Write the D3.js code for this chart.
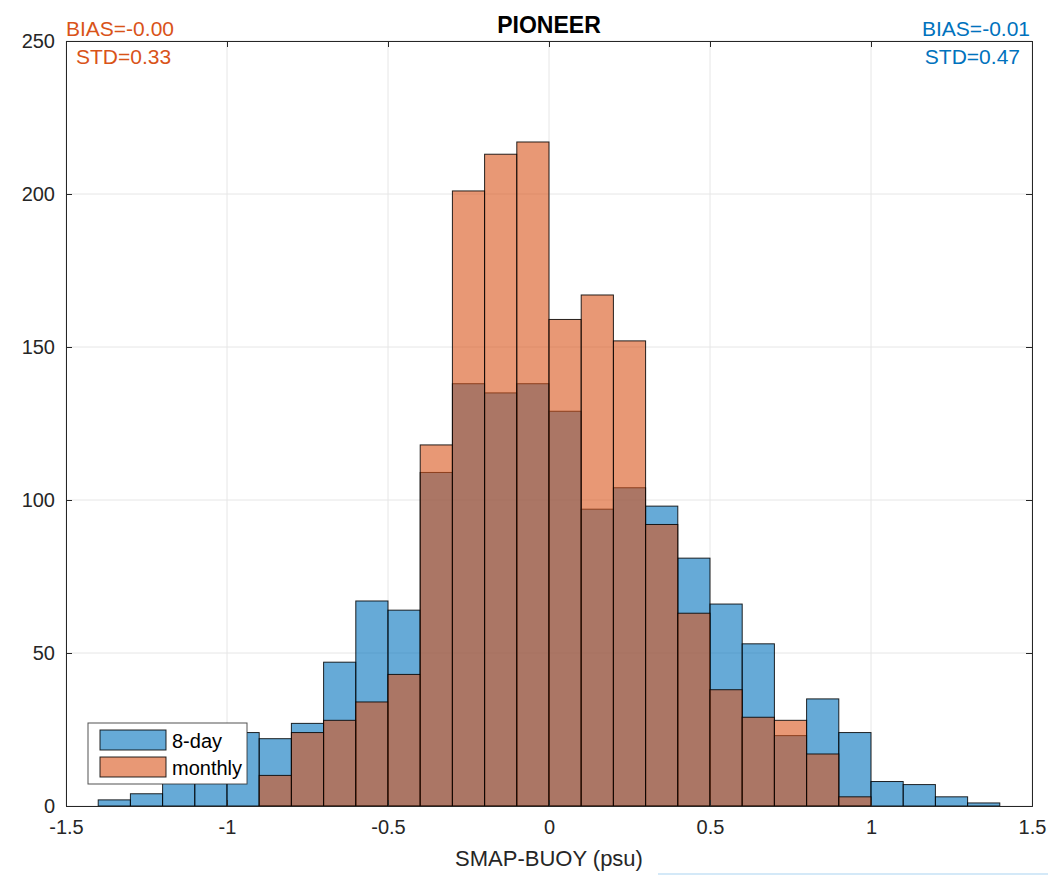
<!DOCTYPE html>
<html>
<head>
<meta charset="utf-8">
<script src="https://cdn.jsdelivr.net/npm/d3@7"></script>
<style>
  html, body { margin: 0; padding: 0; background: #fff; }
  svg { display: block; font-family: "Liberation Sans", Arial, Helvetica, sans-serif; }
</style>
</head>
<body>
<svg id="chart" width="1051" height="875"></svg>
<script>
// Histogram bin edges (psu), 0.1 wide, from -1.4 to 1.4
const binStarts = [-1.4, -1.3, -1.2, -1.1, -1.0, -0.9, -0.8, -0.7, -0.6, -0.5, -0.4, -0.3, -0.2, -0.1,
                   0.0, 0.1, 0.2, 0.3, 0.4, 0.5, 0.6, 0.7, 0.8, 0.9, 1.0, 1.1, 1.2, 1.3];
const binWidth = 0.1;

// Counts per bin, 8-day product
const eightDay = [2, 4, 12, 18, 24, 22, 27, 47, 67, 64, 109, 138, 135, 138,
                  129, 97, 104, 98, 81, 66, 53, 23, 35, 24, 8, 7, 3, 1];
// Counts per bin, monthly product
const monthly = [0, 0, 0, 0, 0, 10, 24, 28, 34, 43, 118, 201, 213, 217,
                 159, 167, 152, 92, 63, 38, 29, 28, 17, 3, 0, 0, 0, 0];

const xTicks = [-1.5, -1, -0.5, 0, 0.5, 1, 1.5];
const yTicks = [0, 50, 100, 150, 200, 250];

const seriesNames = ["8-day", "monthly"];
const statsEight = ["BIAS=-0.01", "STD=0.47"];
const statsMonthly = ["BIAS=-0.00", "STD=0.33"];
const titleText = "PIONEER";
const xLabelText = "SMAP-BUOY (psu)";

const blue = "#0072bd", orange = "#d95319";
const faceAlpha = 0.6;
const axisColor = "#262626";

const svg = d3.select("#chart");
const plot = { left: 66, right: 1032, top: 41, bottom: 806 };

const x = d3.scaleLinear().domain([-1.5, 1.5]).range([plot.left, plot.right]);
const y = d3.scaleLinear().domain([0, 250]).range([plot.bottom, plot.top]);

// grid
const grid = svg.append("g");
grid.selectAll("line.gx").data(xTicks).join("line")
  .attr("x1", d => x(d)).attr("x2", d => x(d))
  .attr("y1", plot.top).attr("y2", plot.bottom)
  .attr("stroke", "#e6e6e6").attr("stroke-width", 1);
grid.selectAll("line.gy").data(yTicks).join("line")
  .attr("y1", d => y(d)).attr("y2", d => y(d))
  .attr("x1", plot.left).attr("x2", plot.right)
  .attr("stroke", "#e6e6e6").attr("stroke-width", 1);

// bars
function drawSeries(counts, color) {
  const rows = binStarts.map((b, i) => ({ x0: b, x1: b + binWidth, n: counts[i] }))
    .filter(d => d.n > 0);
  svg.append("g").selectAll("rect").data(rows).join("rect")
    .attr("x", d => x(d.x0))
    .attr("width", d => x(d.x1) - x(d.x0))
    .attr("y", d => y(d.n))
    .attr("height", d => y(0) - y(d.n))
    .attr("fill", color).attr("fill-opacity", faceAlpha)
    .attr("stroke", "#000").attr("stroke-opacity", 0.85).attr("stroke-width", 1);
}
drawSeries(eightDay, blue);
drawSeries(monthly, orange);

// axes (ticks pointing inward, box on); plain hyphen for negatives
const fontSize = 20;
const fmt = d => String(d);
const xAxis = d3.axisBottom(x).tickValues(xTicks).tickSize(-6).tickPadding(14).tickFormat(fmt);
const yAxis = d3.axisLeft(y).tickValues(yTicks).tickSize(-6).tickPadding(11).tickFormat(fmt);

const gx = svg.append("g").attr("transform", `translate(0,${plot.bottom})`).call(xAxis);
const gy = svg.append("g").attr("transform", `translate(${plot.left},0)`).call(yAxis);
const gxTop = svg.append("g").attr("transform", `translate(0,${plot.top})`)
  .call(d3.axisTop(x).tickValues(xTicks).tickSize(-6).tickFormat(""));
const gyRight = svg.append("g").attr("transform", `translate(${plot.right},0)`)
  .call(d3.axisRight(y).tickValues(yTicks).tickSize(-6).tickFormat(""));

[gx, gy, gxTop, gyRight].forEach(g => {
  g.select(".domain").attr("stroke", axisColor).attr("stroke-width", 1);
  g.selectAll(".tick line").attr("stroke", axisColor);
  g.selectAll("text").attr("fill", axisColor).style("font-size", fontSize + "px")
    .style("font-family", "'Liberation Sans', Arial, sans-serif");
});
gx.selectAll("text").attr("dy", "0.71em");

// title
svg.append("text").attr("x", (plot.left + plot.right) / 2).attr("y", 33)
  .attr("text-anchor", "middle").attr("font-weight", "bold")
  .attr("font-size", 23).attr("fill", "#000").text(titleText);

// x label
svg.append("text").attr("x", (plot.left + plot.right) / 2).attr("y", 866)
  .attr("text-anchor", "middle").attr("font-size", 22).attr("fill", axisColor)
  .text(xLabelText);

// statistics annotations
svg.append("text").attr("x", 66).attr("y", 36).attr("font-size", 21)
  .attr("fill", orange).text(statsMonthly[0]);
svg.append("text").attr("x", 76).attr("y", 64).attr("font-size", 21)
  .attr("fill", orange).text(statsMonthly[1]);
svg.append("text").attr("x", 1030).attr("y", 36).attr("font-size", 21)
  .attr("text-anchor", "end").attr("fill", blue).text(statsEight[0]);
svg.append("text").attr("x", 1020).attr("y", 64).attr("font-size", 21)
  .attr("text-anchor", "end").attr("fill", blue).text(statsEight[1]);

// legend
const legend = svg.append("g").attr("transform", "translate(88,723)");
legend.append("rect").attr("width", 159).attr("height", 61)
  .attr("fill", "#fff").attr("stroke", axisColor).attr("stroke-opacity", 0.8).attr("stroke-width", 1);
const legendColors = [blue, orange];
seriesNames.forEach((name, i) => {
  const row = legend.append("g").attr("transform", `translate(12,${7 + i * 27})`);
  row.append("rect").attr("width", 66).attr("height", 20)
    .attr("fill", legendColors[i]).attr("fill-opacity", faceAlpha)
    .attr("stroke", "#000").attr("stroke-opacity", 0.85);
  row.append("text").attr("x", 72).attr("y", 18).attr("font-size", 20)
    .attr("fill", "#000").text(name);
});

// thin rule below the axis label
svg.append("line").attr("x1", 658).attr("x2", 1048).attr("y1", 874).attr("y2", 874)
  .attr("stroke", "#c6e2f6").attr("stroke-width", 1.5);
</script>
</body>
</html>
